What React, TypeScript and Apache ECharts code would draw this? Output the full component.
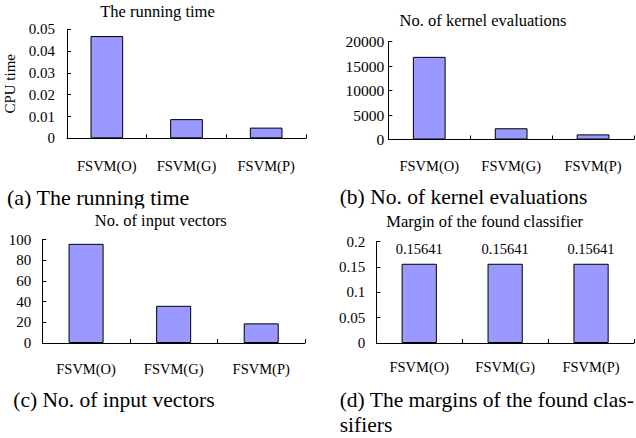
import React, { useEffect, useRef } from "react";
import * as echarts from "echarts";

const categories = ["FSVM(O)", "FSVM(G)", "FSVM(P)"];
const runningTime = [0.0469, 0.0088, 0.0049];
const kernelEvaluations = [16900, 2300, 1050];
const inputVectors = [96, 36, 19];
const margins = [0.15641, 0.15641, 0.15641];

const titles = [
  "The running time",
  "No. of kernel evaluations",
  "No. of input vectors",
  "Margin of the found classifier",
];
const captions = [
  "(a) The running time",
  "(b) No. of kernel evaluations",
  "(c) No. of input vectors",
  "(d) The margins of the found clas-\nsifiers",
];
const yMax = [0.05, 20000, 100, 0.2];
const yInterval = [0.01, 5000, 20, 0.05];

const FONT = "'Liberation Serif', 'Times New Roman', serif";
const BAR = "#9999ff";

export default function App() {
  const ref = useRef<HTMLDivElement>(null);

  useEffect(() => {
    if (!ref.current) return;
    const chart = echarts.init(ref.current, undefined, { renderer: "svg" });

    const grids = [
      { left: 67, top: 29.3, width: 239, height: 109 },
      { left: 388.3, top: 41.7, width: 245.7, height: 97.8 },
      { left: 42.3, top: 239.7, width: 262.7, height: 103.3 },
      { left: 376.3, top: 241.7, width: 257.7, height: 101.3 },
    ];
    const xLabelMargin = [20, 18.5, 18, 16.5];
    const yLabelMargin = [12, 4, 11, 11];
    const yLabelSize = [15, 15.5, 15, 15];
    const barWidths = ["41%", "40%", "40%", "41%"];
    const values = [runningTime, kernelEvaluations, inputVectors, margins];

    const titlePos = [
      [157.5, 11],
      [483, 20.4],
      [160.8, 220.4],
      [484.7, 221],
    ];

    const text = (
      x: number,
      y: number,
      t: string,
      size: number,
      align: string,
      extra: any = {}
    ) => ({
      type: "text",
      x,
      y,
      z: 10,
      style: {
        text: t,
        fontSize: size,
        fontFamily: FONT,
        fill: "#000",
        align,
        verticalAlign: "middle",
        textAlign: align,
        textVerticalAlign: "middle",
        ...extra,
      },
    });

    const graphic: any[] = [
      text(7, 197, captions[0], 22, "left"),
      text(339.7, 197, captions[1], 21.5, "left"),
      {
        type: "rect",
        z: 11,
        shape: { x: 0, y: 208.5, width: 636, height: 10.5 },
        style: { fill: "#fff" },
      },
      text(13.3, 400.3, captions[2], 21.5, "left"),
      {
        type: "text",
        x: 339.7,
        y: 387.5,
        z: 10,
        style: {
          text: captions[3],
          fontSize: 21.5,
          fontFamily: FONT,
          fill: "#000",
          align: "left",
          verticalAlign: "top",
          textAlign: "left",
          textVerticalAlign: "top",
          lineHeight: 25,
        },
      },
    ];
    titles.forEach((t, i) => {
      const g = text(titlePos[i][0], titlePos[i][1], t, 16.5, "center");
      g.z = 12;
      graphic.push(g);
    });

    const option: any = {
      animation: false,
      backgroundColor: "#fff",
      textStyle: { fontFamily: FONT, color: "#000" },
      grid: grids.map((g) => ({ ...g, containLabel: false, outerBoundsMode: "none" })),
      xAxis: grids.map((_, i) => ({
        type: "category",
        gridIndex: i,
        data: categories,
        axisLine: { show: true, lineStyle: { color: "#000", width: 1 } },
        axisTick: { show: true, inside: true, length: 4, lineStyle: { color: "#000" } },
        axisLabel: {
          margin: xLabelMargin[i],
          fontSize: 14.5,
          fontFamily: FONT,
          color: "#000",
          interval: 0,
        },
        splitLine: { show: false },
      })),
      yAxis: grids.map((_, i) => ({
        type: "value",
        gridIndex: i,
        min: 0,
        max: yMax[i],
        interval: yInterval[i],
        name: i === 0 ? "CPU time" : "",
        nameLocation: "middle",
        nameGap: 50,
        nameRotate: 90,
        nameTextStyle: { fontSize: 15, fontFamily: FONT, color: "#000" },
        axisLine: { show: true, lineStyle: { color: "#000", width: 1 } },
        axisTick: { show: true, inside: true, length: 4, lineStyle: { color: "#000" } },
        axisLabel: {
          margin: yLabelMargin[i],
          fontSize: yLabelSize[i],
          fontFamily: FONT,
          color: "#000",
          formatter: (v: number) => String(parseFloat(v.toPrecision(6))),
        },
        splitLine: { show: false },
      })),
      series: values.map((v, i) => ({
        type: "bar",
        xAxisIndex: i,
        yAxisIndex: i,
        data: v,
        barWidth: barWidths[i],
        itemStyle: { color: BAR, borderColor: "#000", borderWidth: 1 },
        label:
          i === 3
            ? {
                show: true,
                position: "top",
                distance: 7,
                fontSize: 14.5,
                fontFamily: FONT,
                color: "#000",
                formatter: (p: any) => String(p.value),
              }
            : { show: false },
        emphasis: { disabled: true },
      })),
      graphic,
    };

    chart.setOption(option);
    return () => chart.dispose();
  }, []);

  return (
    <div
      ref={ref}
      style={{ position: "absolute", left: 0, top: 0, width: 636, height: 438, background: "#fff" }}
    />
  );
}
